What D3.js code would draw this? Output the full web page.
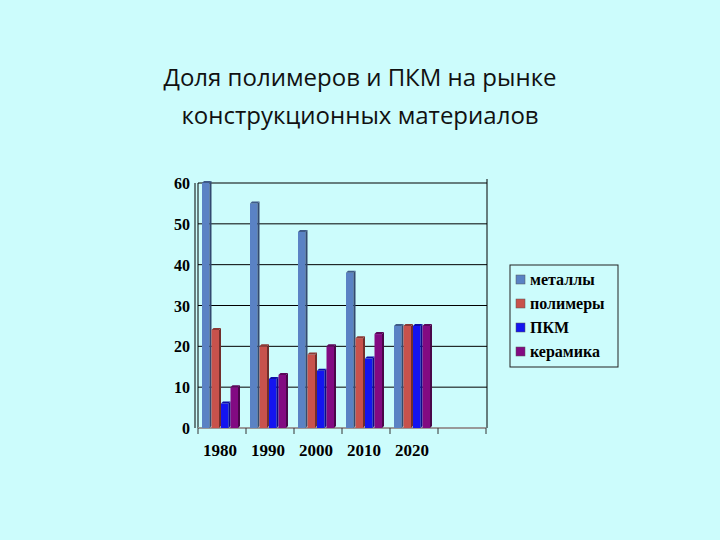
<!DOCTYPE html>
<html><head><meta charset="utf-8">
<script src="https://cdn.jsdelivr.net/npm/d3@7"></script>
<style>body{margin:0;background:#ccfcfc;}</style>
</head><body>
<svg id="chart" width="720" height="540"></svg>
<script>
const years = ["1980", "1990", "2000", "2010", "2020", ""];
const seriesNames = ["металлы", "полимеры", "ПКМ", "керамика"];
const colors = ["#5a82c4", "#c8524c", "#1414f0", "#820a82"];
const metals = [60, 55, 48, 38, 25];
const polymers = [24, 20, 18, 22, 25];
const pkm = [6, 12, 14, 17, 25];
const ceramics = [10, 13, 20, 23, 25];
const yTicks = [0, 10, 20, 30, 40, 50, 60];

const series = [metals, polymers, pkm, ceramics];
const svg = d3.select("#chart");
svg.append("rect").attr("width", 720).attr("height", 540).attr("fill", "#ccfcfc");

// title
svg.append("text").attr("x", 360).attr("y", 86).attr("text-anchor", "middle")
  .attr("font-family", "Open Sans").attr("font-size", 24).attr("fill", "#111")
  .text("Доля полимеров и ПКМ на рынке");
svg.append("text").attr("x", 360).attr("y", 124).attr("text-anchor", "middle")
  .attr("font-family", "Open Sans").attr("font-size", 24).attr("fill", "#111")
  .text("конструкционных материалов");

const plotLeft = 198, plotRight = 486, plotTop = 183, plotBottom = 428;
const x = d3.scaleBand().domain(d3.range(years.length)).range([plotLeft, plotRight]);
const x1 = d3.scaleBand().domain(d3.range(4)).range([4, 42]).paddingInner(0);
const y = d3.scaleLinear().domain([0, 60]).range([plotBottom, plotTop]);

// grid
svg.append("g").selectAll("line").data(yTicks.slice(1)).join("line")
  .attr("x1", plotLeft).attr("x2", plotRight + 1).attr("y1", d => y(d)).attr("y2", d => y(d))
  .attr("stroke", "#000").attr("stroke-width", 1);
svg.append("line").attr("x1", plotRight + 1).attr("x2", plotRight + 1).attr("y1", plotTop - 4).attr("y2", plotBottom)
  .attr("stroke", "#000");
svg.append("line").attr("x1", plotLeft).attr("x2", plotLeft).attr("y1", plotTop).attr("y2", plotBottom)
  .attr("stroke", "#000");
svg.append("line").attr("x1", plotLeft - 3).attr("x2", plotLeft - 3).attr("y1", plotTop).attr("y2", plotBottom)
  .attr("stroke", "#000");

// y axis labels
svg.append("g").selectAll("text").data(yTicks).join("text")
  .attr("x", 190).attr("y", d => y(d) + 6).attr("text-anchor", "end")
  .attr("font-family", "Liberation Serif").attr("font-weight", "bold").attr("font-size", 16)
  .text(d => d);

// bottom axis
svg.append("line").attr("x1", plotLeft).attr("x2", plotRight).attr("y1", plotBottom).attr("y2", plotBottom)
  .attr("stroke", "#999").attr("stroke-width", 2);
svg.append("g").selectAll("line").data(d3.range(years.length + 1)).join("line")
  .attr("x1", i => plotLeft + i * x.step()).attr("x2", i => plotLeft + i * x.step())
  .attr("y1", plotBottom).attr("y2", plotBottom + 6).attr("stroke", "#333");
svg.append("g").selectAll("text").data(years).join("text")
  .attr("x", (d, i) => x(i) + x.bandwidth() / 2 - 2).attr("y", plotBottom + 28).attr("text-anchor", "middle")
  .attr("font-family", "Liberation Serif").attr("font-weight", "bold").attr("font-size", 17)
  .text(d => d);

// bars with pseudo-3D side and top
const g = svg.append("g");
series.forEach((vals, s) => {
  vals.forEach((v, i) => {
    const bx = x(i) + x1(s), bw = x1.bandwidth() - 2;
    g.append("rect").attr("x", bx).attr("y", y(v)).attr("width", bw).attr("height", plotBottom - y(v))
      .attr("fill", colors[s]);
    g.append("path")
      .attr("d", `M${bx + bw},${y(v)} l2,-2 v${plotBottom - y(v)} l-2,2 Z`)
      .attr("fill", d3.color(colors[s]).darker(1.6));
    g.append("path")
      .attr("d", `M${bx},${y(v)} l2,-2 h${bw} l-2,2 Z`)
      .attr("fill", d3.color(colors[s]).darker(1));
  });
});

// legend
const lg = svg.append("g").attr("transform", "translate(510,265)");
lg.append("rect").attr("width", 108).attr("height", 102).attr("fill", "none").attr("stroke", "#222");
lg.selectAll("rect.sw").data(seriesNames).join("rect").attr("class", "sw")
  .attr("x", 6).attr("y", (d, i) => 10 + i * 24).attr("width", 9).attr("height", 9)
  .attr("fill", (d, i) => colors[i]).attr("stroke", "#555").attr("stroke-width", 0.5);
lg.selectAll("text").data(seriesNames).join("text")
  .attr("x", 20).attr("y", (d, i) => 20 + i * 24)
  .attr("font-family", "Liberation Serif").attr("font-weight", "bold").attr("font-size", 16)
  .text(d => d);
</script>
</body></html>
